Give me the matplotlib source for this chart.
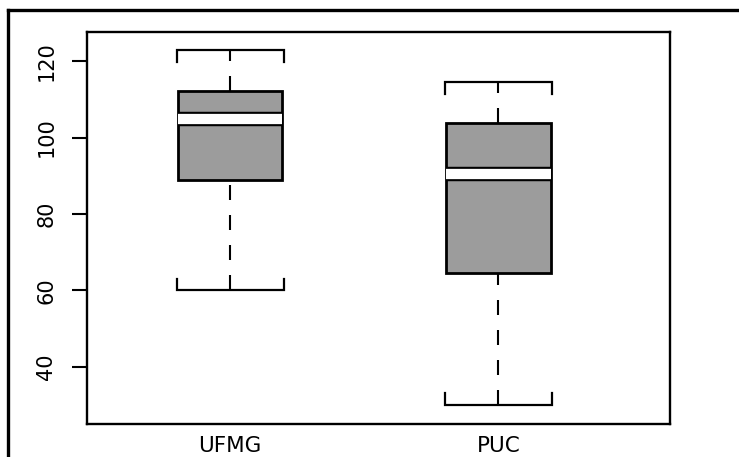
import numpy as np
import matplotlib
matplotlib.use("Agg")
import matplotlib.pyplot as plt
import matplotlib.patheffects as pe
from matplotlib.lines import Line2D

# values
groups = ["UFMG", "PUC"]
whisker_low = [60.0, 30.0]
quart_low = [89.0, 64.5]
medians = [104.8, 90.4]
quart_high = [112.1, 103.7]
whisker_high = [122.9, 114.4]
yticks = [40, 60, 80, 100, 120]

stats = []
for i, name in enumerate(groups):
    stats.append(dict(label=name, whislo=whisker_low[i], q1=quart_low[i],
                      med=medians[i], q3=quart_high[i], whishi=whisker_high[i]))

plt.rcParams['font.family'] = ['DejaVu Sans']

fig = plt.figure(figsize=(7.39, 4.57), dpi=100)
ax = fig.add_axes([87 / 739, 1 - 424 / 457, (670 - 87) / 739, (424 - 32) / 457])

positions = np.arange(1, len(groups) + 1)
res = ax.bxp(stats, positions=positions, widths=0.39, capwidths=0.40,
             showfliers=False, patch_artist=True,
             boxprops=dict(facecolor="#9c9c9c", edgecolor="black", linewidth=2.0),
             whiskerprops=dict(color="black", linewidth=1.5, linestyle=(0, (7.2, 7.2))),
             capprops=dict(color="black", linewidth=1.6),
             medianprops=dict(color="white", linewidth=7.4, solid_capstyle="butt",
                              path_effects=[pe.Stroke(linewidth=10.4, foreground="black"),
                                            pe.Normal()]))

# brackets at the ends of the caps, pointing back to the box
serif = 3.1
for k, cap in enumerate(res["caps"]):
    xs = cap.get_xdata()
    y = cap.get_ydata()[0]
    med = medians[k // 2]
    d = serif if med > y else -serif
    cap.set_data([xs[0], xs[0], xs[1], xs[1]], [y + d, y, y, y + d])
    cap.set_solid_joinstyle("miter")

# R draws the lower whisker from the cap upwards
for k in range(0, len(res["whiskers"]), 2):
    w = res["whiskers"][k]
    w.set_ydata(w.get_ydata()[::-1])

ax.set_xlim(0.466, 2.64)
ax.set_ylim(25.05, 127.6)
ax.set_yticks(yticks)
ax.set_yticklabels([str(t) for t in yticks], rotation=90, va="center", fontsize=15)
ax.set_xticks(positions)
ax.set_xticklabels(groups, fontsize=15.5)
ax.tick_params(axis="y", length=11, width=1.5, pad=11)
ax.tick_params(axis="x", length=0, pad=9)
for s in ax.spines.values():
    s.set_linewidth(1.7)

# outer frame of the scanned figure
fig.add_artist(Line2D([8 / 739, 8 / 739], [0, 1 - 10 / 457], color="black", linewidth=2.4,
                      transform=fig.transFigure))
fig.add_artist(Line2D([8 / 739, 1], [1 - 10 / 457, 1 - 10 / 457], color="black", linewidth=2.4,
                      transform=fig.transFigure))

fig.savefig("out.png", dpi=100)
